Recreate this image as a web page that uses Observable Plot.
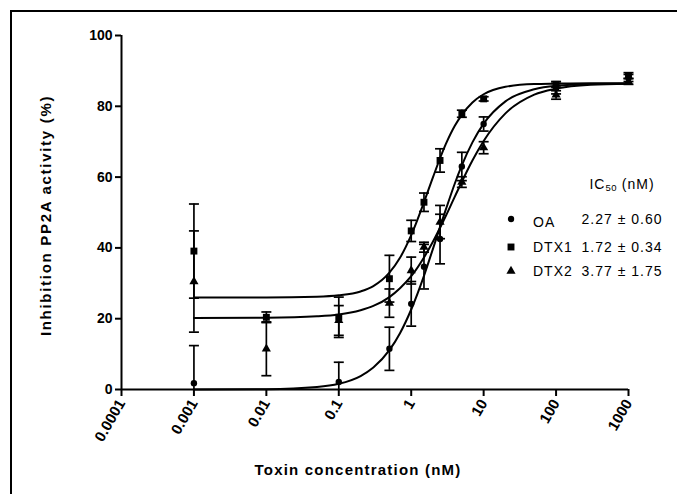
<!DOCTYPE html>
<html>
<head>
<meta charset="utf-8">
<script src="https://cdn.jsdelivr.net/npm/d3@7"></script>
<script src="https://cdn.jsdelivr.net/npm/@observablehq/plot@0.6"></script>
<style>
  html, body { margin: 0; padding: 0; background: #fff; overflow: hidden; }
  #wrap { position: relative; width: 677px; height: 494px; overflow: hidden; font-family: "Liberation Sans", Arial, sans-serif; }
  #frame { position: absolute; left: 10px; top: 10px; width: 800px; height: 600px; border-left: 2px solid #000; border-top: 2px solid #000; pointer-events: none; }
  .lg { position: absolute; font-size: 14px; letter-spacing: 1px; color: #000; white-space: nowrap; transform: translate(-50%, -50%); line-height: 1; }
  .lgl { transform: translate(0, -50%); }
  .lg sub { font-size: 9.5px; vertical-align: -2px; letter-spacing: 0.5px; }
  .sym { position: absolute; transform: translate(-50%, -50%); }
  svg text.xtitle { letter-spacing: 1.2px; }
  svg text.ytitle { letter-spacing: 1.7px; }
</style>
</head>
<body>
<div id="wrap"><div id="frame"></div></div>
<script>
// ---- data ----
const xTicks = [0.0001, 0.001, 0.01, 0.1, 1, 10, 100, 1000];
const yTicks = [0, 20, 40, 60, 80, 100];
const xLabel = "Toxin concentration (nM)";
const yLabel = "Inhibition PP2A activity (%)";

const conc = [0.001, 0.01, 0.1, 0.5, 1, 1.5, 2.5, 5, 10, 100, 1000];
const oaMean   = [1.8, null, 2.1, 11.5, 24.2, 34.7, 42.5, 63.0, 75.0, 85.0, 88.0];
const oaErr    = [10.6, null, 5.6, 6.1, 6.3, 6.3, 7.0, 4.0, 2.0, 1.5, 1.0];
const dtx1Mean = [39.1, 20.4, 20.4, 31.3, 44.8, 52.9, 64.7, 77.9, 82.1, 86.2, 88.7];
const dtx1Err  = [13.3, 1.5, 5.7, 6.6, 3.0, 2.6, 3.3, 1.0, 0.6, 0.8, 0.8];
const dtx2Mean = [30.5, 11.5, 19.5, 24.4, 33.6, 40.2, 47.3, 58.6, 68.3, 83.2, 87.0];
const dtx2Err  = [14.3, 7.6, 4.2, 4.0, 3.8, 1.4, 4.7, 1.5, 1.7, 1.2, 0.8];

// fitted curves
const curveConc = [0.001, 0.01, 0.05, 0.1, 0.2, 0.3, 0.5, 0.7, 1, 1.5, 2, 3, 4, 5, 7, 10, 20, 50, 100, 300, 1000];
const oaCurve   = [0.0, 0.1, 0.7, 1.6, 3.8, 6.2, 11.1, 15.9, 22.6, 32.1, 39.8, 50.8, 58.2, 63.3, 69.8, 75.1, 81.4, 84.8, 85.8, 86.3, 86.4];
const dtx1Curve = [26.0, 26.0, 26.2, 26.6, 27.7, 29.2, 33.0, 37.2, 43.6, 52.9, 60.0, 69.3, 74.5, 77.6, 81.1, 83.4, 85.5, 86.3, 86.4, 86.5, 86.5];
const dtx2Curve = [20.2, 20.3, 20.7, 21.2, 22.4, 23.6, 26.1, 28.6, 32.0, 37.3, 41.8, 49.0, 54.5, 58.7, 64.7, 70.2, 78.0, 83.3, 85.0, 86.1, 86.4];

const seriesNames = ["OA", "DTX1", "DTX2"];
const seriesSymbols = ["circle", "square", "triangle"];
const seriesR = [3.2, 3.9, 3.4];
const ic50Text = ["2.27 ± 0.60", "1.72 ± 0.34", "3.77 ± 1.75"];

// ---- build tables ----
const means = [oaMean, dtx1Mean, dtx2Mean];
const errs = [oaErr, dtx1Err, dtx2Err];
const curves = [oaCurve, dtx1Curve, dtx2Curve];

const points = [], caps = [], curvePts = [];
seriesNames.forEach((s, k) => {
  conc.forEach((c, i) => {
    const m = means[k][i];
    if (m == null) return;
    const e = errs[k][i];
    points.push({series: s, x: c, y: m, lo: Math.max(0, m - e), hi: m + e});
    caps.push({series: s, x: c, y: m + e});
    if (m - e >= 0) caps.push({series: s, x: c, y: m - e});
  });
  curveConc.forEach((c, i) => curvePts.push({series: s, x: c, y: curves[k][i]}));
});

const hline = {
  draw(context, size) {
    const w = Math.sqrt(size / Math.PI);
    context.moveTo(-w, 0);
    context.lineTo(w, 0);
  }
};

const marks = [
  Plot.axisY({ticks: yTicks, tickSize: 6, tickPadding: 3, strokeWidth: 2, label: null, fontSize: 14, fontWeight: "bold"}),
  Plot.axisX({ticks: xTicks, tickFormat: d => String(d), tickRotate: -60, textAnchor: "end", tickSize: 7, tickPadding: 4, strokeWidth: 2, label: null, fontSize: 15, fontWeight: "bold"}),
  Plot.ruleX([xTicks[0]], {y1: yTicks[0], y2: yTicks[yTicks.length - 1], strokeWidth: 2}),
  Plot.ruleY([yTicks[0]], {x1: xTicks[0], x2: xTicks[xTicks.length - 1], strokeWidth: 2}),
  Plot.line(curvePts, {x: "x", y: "y", z: "series", curve: "monotone-x", stroke: "black", strokeWidth: 2}),
  Plot.ruleX(points, {x: "x", y1: "lo", y2: "hi", stroke: "black", strokeWidth: 1.7}),
  Plot.dot(caps, {x: "x", y: "y", symbol: hline, r: 5, stroke: "black", fill: "none", strokeWidth: 1.7}),
  Plot.text([xLabel], {frameAnchor: "bottom", textAnchor: "middle", lineAnchor: "middle", dx: -17, dy: 81, fontSize: 15, fontWeight: "bold"}),
  Plot.text([yLabel], {frameAnchor: "left", textAnchor: "middle", lineAnchor: "middle", dx: -75, dy: 3, rotate: -90, fontSize: 15, fontWeight: "bold"})
];
seriesNames.forEach((s, k) => {
  marks.push(Plot.dot(points.filter(d => d.series === s), {x: "x", y: "y", symbol: seriesSymbols[k], r: seriesR[k], fill: "black", stroke: "none"}));
});

const chart = Plot.plot({
  width: 677,
  height: 494,
  marginLeft: 121,
  marginRight: 49,
  marginTop: 35,
  marginBottom: 105,
  x: {type: "log", domain: [xTicks[0], xTicks[xTicks.length - 1]]},
  y: {domain: [yTicks[0], yTicks[yTicks.length - 1]]},
  style: {fontFamily: "'Liberation Sans', Arial, sans-serif", fontSize: "14px", color: "black", background: "transparent", overflow: "visible"},
  marks
});
d3.select(chart).selectAll("text").each(function() {
  const t = this.textContent;
  if (t === xLabel) d3.select(this).classed("xtitle", true);
  if (t === yLabel) d3.select(this).classed("ytitle", true);
});

const wrap = document.getElementById("wrap");
wrap.insertBefore(chart, wrap.firstChild);

// ---- legend (IC50 box) ----
function addText(html, left, top, cls) {
  const d = document.createElement("div");
  d.className = "lg" + (cls ? " " + cls : "");
  d.style.left = left + "px";
  d.style.top = top + "px";
  d.innerHTML = html;
  wrap.appendChild(d);
}
addText("IC<sub>50</sub> (nM)", 622, 185);
const rowY = [219, 247, 271];
const labelY = [222, 247, 271];
const d3Sym = {circle: d3.symbolCircle, square: d3.symbolSquare, triangle: d3.symbolTriangle};
seriesNames.forEach((s, k) => {
  const svg = d3.create("svg").attr("width", 14).attr("height", 14).attr("class", "sym")
    .style("left", "511px").style("top", rowY[k] + "px").style("position", "absolute");
  svg.append("path").attr("transform", "translate(7,7)")
    .attr("d", d3.symbol(d3Sym[seriesSymbols[k]], Math.PI * seriesR[k] * seriesR[k])()).attr("fill", "black");
  wrap.appendChild(svg.node());
  addText(s, 533, labelY[k], "lgl");
  addText(ic50Text[k], 622, rowY[k]);
});
</script>
</body>
</html>
